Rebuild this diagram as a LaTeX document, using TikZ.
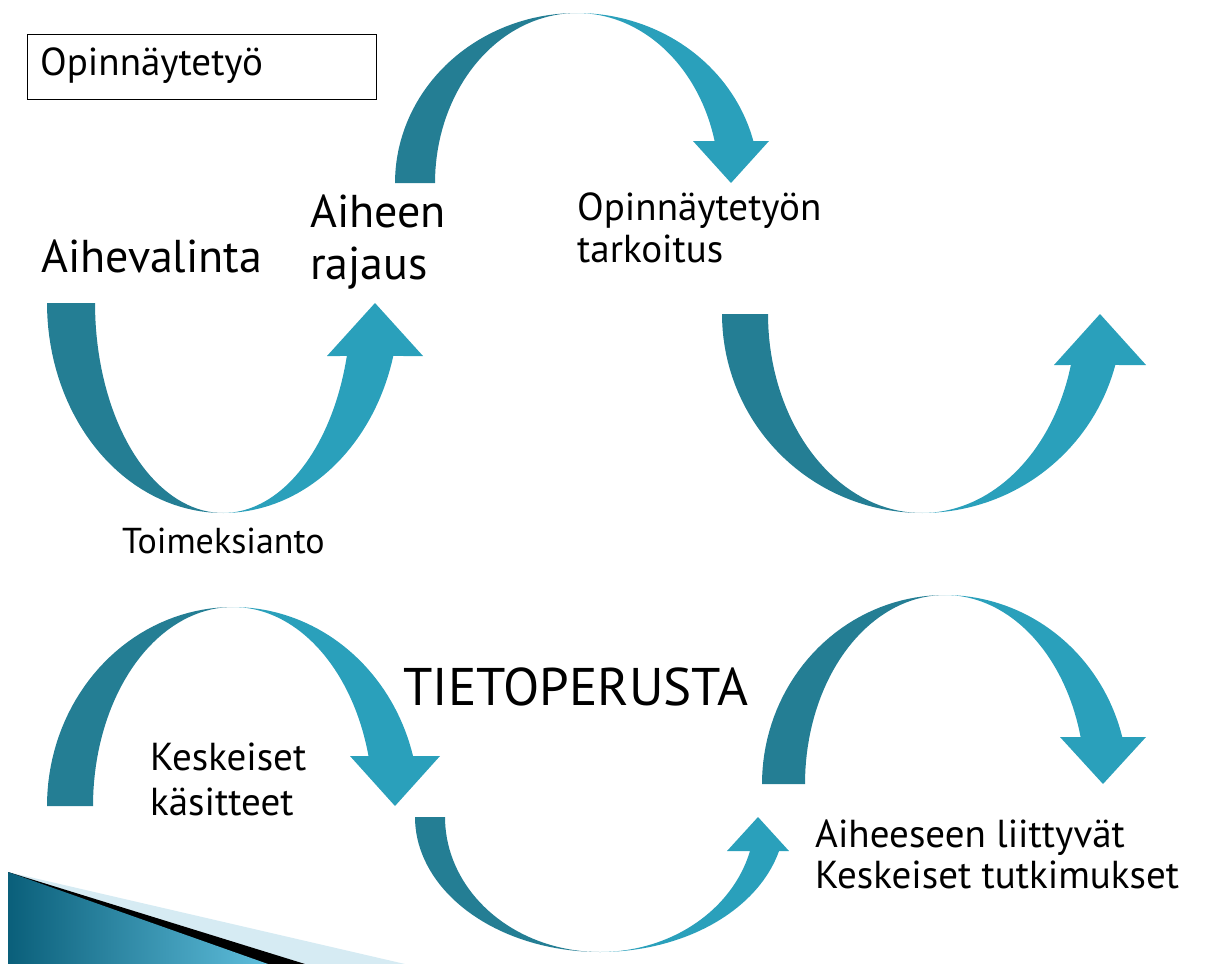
\documentclass[tikz,border=0pt]{standalone}
\usepackage{fontspec}
\setmainfont{PT Sans}
\usepackage{tikz}
\usetikzlibrary{calc}

\definecolor{arrowdark}{RGB}{36,126,148}
\definecolor{arrowlight}{RGB}{42,160,187}
\definecolor{cornerdark}{RGB}{10,95,122}
\definecolor{cornerlight}{RGB}{95,190,220}
\definecolor{cornerpale}{RGB}{214,235,243}

\tikzset{
  backpart/.style={fill=arrowdark},
  frontpart/.style={fill=arrowlight},
  bigtext/.style={font=\fontsize{46}{52}\selectfont, inner sep=0pt, anchor=base west},
  midtext/.style={font=\fontsize{38}{44}\selectfont, inner sep=0pt, anchor=base west},
  hugetext/.style={font=\fontsize{53}{60}\selectfont, inner sep=0pt, anchor=base west},
}

% #1 cx, #2 base y, #3 outer radius, #4 inner radius, #5 depth, #6 head base, #7 tip x, #8 head half width
\newcommand{\bendarrow}[8]{%
  \pgfmathsetmacro{\headang}{asin((#6)/(#5))}%
  \fill[backpart] plot[domain=180:90,samples=40] ({#1+#3*cos(\x)},{#2+(#5)*sin(\x)})
    -- plot[domain=90:180,samples=40] ({#1+#4*cos(\x)},{#2+(#5)*sin(\x)}) -- cycle;
  \fill[frontpart] plot[domain=90:\headang,samples=40] ({#1+#3*cos(\x)},{#2+(#5)*sin(\x)})
    -- ({#7+#8},{#2+(#6)}) -- (#7,#2) -- ({#7-#8},{#2+(#6)})
    -- plot[domain=\headang:90,samples=40] ({#1+#4*cos(\x)},{#2+(#5)*sin(\x)}) -- cycle;
}

\begin{document}
\begin{tikzpicture}[x=1pt,y=-1pt]
    \useasboundingbox (0,0) rectangle (1211,964);

    \node (titlebox) [draw, line width=1.2pt, anchor=north west, minimum width=349pt, minimum height=65pt] at (27,34) {};
    \node (title) [midtext, font=\fontsize{39}{44}\selectfont] at (40,75) {Opinnäytetyö};

    \bendarrow{223}{303}{176}{128}{210}{53}{375}{48}
    \bendarrow{577}{183}{182}{142}{-170}{-42}{731}{38}
    \bendarrow{922}{314}{200}{154}{199}{51}{1100}{46}
    \bendarrow{233}{806}{186}{140}{-199}{-50}{395}{45}
    \bendarrow{600}{817}{185}{155}{135}{34}{758}{31}
    \bendarrow{945}{784}{183}{140}{-189}{-47}{1103}{43}

    \node (valinta) [bigtext] at (41,272) {Aihevalinta};
    \node (rajaus1) [bigtext] at (310,227) {Aiheen};
    \node (rajaus2) [bigtext] at (310,279) {rajaus};
    \node (tarkoitus1) [midtext, font=\fontsize{39}{44}\selectfont] at (577,220) {Opinnäytetyön};
    \node (tarkoitus2) [midtext, font=\fontsize{39}{44}\selectfont] at (577,262) {tarkoitus};
    \node (toimeksianto) [midtext, font=\fontsize{36}{42}\selectfont] at (122,553) {Toimeksianto};
    \node (perusta) [hugetext] at (403,705) {TIETOPERUSTA};
    \node (kasite1) [midtext, font=\fontsize{39}{44}\selectfont] at (150,770) {Keskeiset};
    \node (kasite2) [midtext, font=\fontsize{39}{44}\selectfont] at (150,815) {käsitteet};
    \node (tutkimus1) [midtext, font=\fontsize{39}{44}\selectfont] at (815,847) {Aiheeseen liittyvät};
    \node (tutkimus2) [midtext, font=\fontsize{39}{44}\selectfont] at (815,888) {Keskeiset tutkimukset};

    \fill[cornerpale] (8,872) -- (405,964) -- (8,964) -- cycle;
    \fill[black] (8,872) -- (305,964) -- (8,964) -- cycle;
    \shade[left color=cornerdark, right color=cornerlight] (8,872) -- (268,964) -- (8,964) -- cycle;
\end{tikzpicture}
\end{document}
